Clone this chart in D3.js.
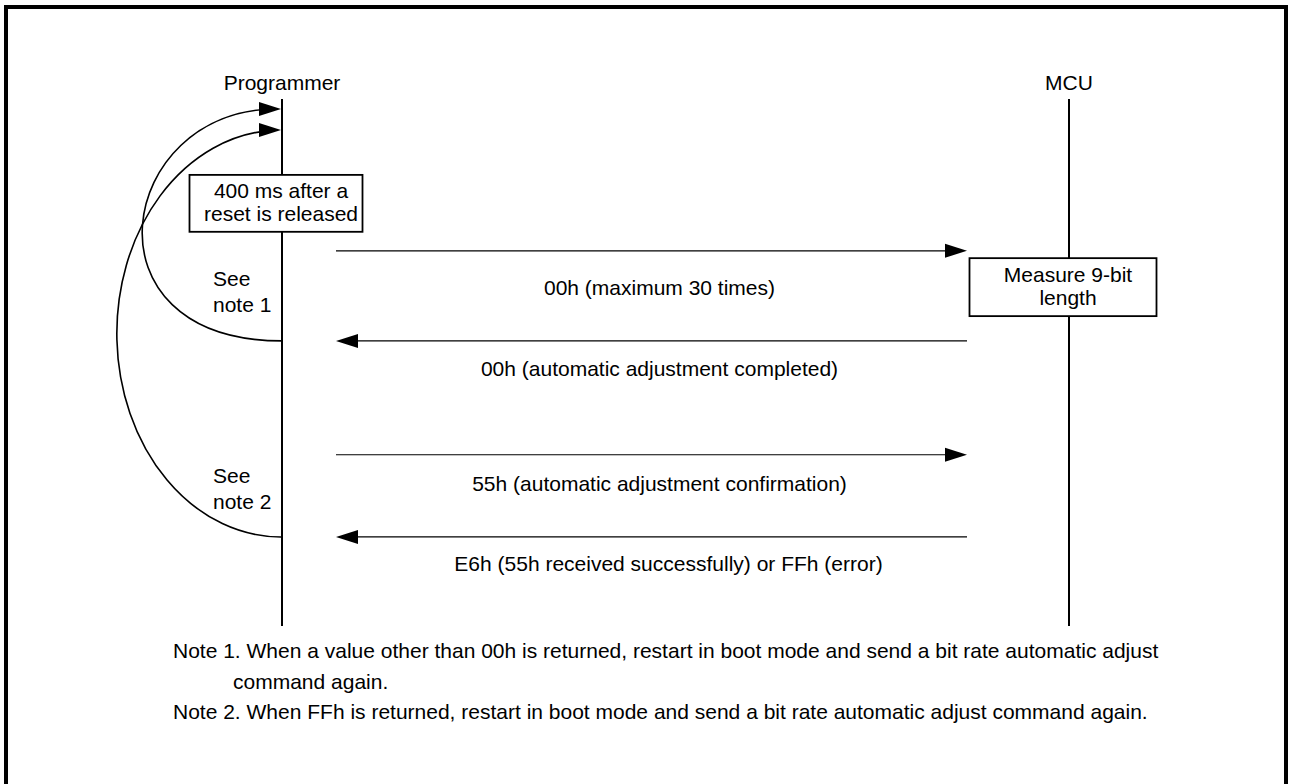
<!DOCTYPE html>
<html>
<head>
<meta charset="utf-8">
<script src="https://cdn.jsdelivr.net/npm/d3@7/dist/d3.min.js"></script>
<style>
  html, body { margin: 0; padding: 0; background: #fff; }
  svg { display: block; }
  text { font-family: "Liberation Sans", Arial, Helvetica, sans-serif; fill: #000; }
</style>
</head>
<body>
<svg id="chart" width="1290" height="784"></svg>
<script>
// ---- data ----
const participants = ["Programmer", "MCU"];
// message times on the timeline (0 = top of lifelines, 100 = bottom)
const messageFrom = ["Programmer", "MCU", "Programmer", "MCU"];
const messageTo   = ["MCU", "Programmer", "MCU", "Programmer"];
const messageTime = [28.8, 45.9, 67.5, 83.1];
const messageLabel = [
  "00h (maximum 30 times)",
  "00h (automatic adjustment completed)",
  "55h (automatic adjustment confirmation)",
  "E6h (55h received successfully) or FFh (error)"
];
const messageLabelTime = [37.2, 52.5, 74.4, 89.6];
const messageLabelShift = [0, 0, 0, 9];

// boxes on lifelines
const boxOwner = ["Programmer", "MCU"];
const boxStart = [14.4, 30.2];
const boxEnd   = [25.2, 41.2];
const boxLines = [["400 ms after a", "reset is released"], ["Measure 9-bit", "length"]];

// loop-back curves (retry) : from a message time back to an earlier time
const loopFrom  = [45.9, 83.1];
const loopTo    = [1.9, 5.9];
const loopLabel = [["See", "note 1"], ["See", "note 2"]];
const loopLabelTime = [35.5, 72.8];

const notes = [
  ["Note 1. When a value other than 00h is returned, restart in boot mode and send a bit rate automatic adjust", "command again."],
  ["Note 2. When FFh is returned, restart in boot mode and send a bit rate automatic adjust command again."]
];

// ---- scales ----
const svg = d3.select("#chart");
const W = 1290, H = 784;
const x = d3.scalePoint().domain(participants).range([282, 1069]);
const y = d3.scaleLinear().domain([0, 100]).range([99, 626]);
const FS = 21;

// frame
svg.append("path")
  .attr("d", `M6,${H + 10} V7 H1286 V${H + 10}`)
  .attr("fill", "none").attr("stroke", "#000").attr("stroke-width", 4);

// participant labels
svg.selectAll("text.part").data(participants).join("text")
  .attr("class", "part")
  .attr("x", d => x(d)).attr("y", 90)
  .attr("text-anchor", "middle").attr("font-size", FS)
  .text(d => d);

// lifelines
svg.selectAll("line.life").data(participants).join("line")
  .attr("class", "life")
  .attr("x1", d => x(d)).attr("x2", d => x(d))
  .attr("y1", y(0)).attr("y2", y(100))
  .attr("stroke", "#000").attr("stroke-width", 2);

// arrowhead helper
function head(g, tipX, tipY, dir) {
  const L = 22, hw = 7;
  g.append("path")
    .attr("d", `M${tipX},${tipY} L${tipX - dir * L},${tipY - hw} L${tipX - dir * L},${tipY + hw} Z`)
    .attr("fill", "#000");
}

// messages
const leftEnd = x("Programmer") + 54;
const rightEnd = x("MCU") - 102;
const msgG = svg.append("g");
messageTime.forEach((t, i) => {
  const yy = y(t);
  const toRight = x(messageTo[i]) > x(messageFrom[i]);
  const tipX = toRight ? rightEnd : leftEnd;
  const startX = toRight ? leftEnd : rightEnd;
  const dir = toRight ? 1 : -1;
  msgG.append("line")
    .attr("x1", startX).attr("x2", tipX - dir * 20)
    .attr("y1", yy).attr("y2", yy)
    .attr("stroke", "#000").attr("stroke-width", 1.2);
  head(msgG, tipX, yy, dir);
  msgG.append("text")
    .attr("x", (leftEnd + rightEnd) / 2 + 8 + messageLabelShift[i])
    .attr("y", y(messageLabelTime[i]))
    .attr("text-anchor", "middle").attr("font-size", FS)
    .text(messageLabel[i]);
});

// loop curves
const loopG = svg.append("g");
const px = x("Programmer");
// inner loop (note 1): bezier, bulging slightly lower
{
  const y0 = y(loopFrom[0]), y1 = y(loopTo[0]);
  loopG.append("path")
    .attr("d", `M${px},${y0} C${px - 205},${y0} ${px - 165},${y1} ${px - 6},${y1}`)
    .attr("fill", "none").attr("stroke", "#000").attr("stroke-width", 1.6);
  head(loopG, px - 1, y1, 1);
}
// outer loop (note 2): half ellipse
{
  const y0 = y(loopFrom[1]), y1 = y(loopTo[1]);
  const ry = (y0 - y1) / 2;
  loopG.append("path")
    .attr("d", `M${px},${y0} A164,${ry} 0 0 1 ${px - 10},${y1 + 0.3}`)
    .attr("fill", "none").attr("stroke", "#000").attr("stroke-width", 1.6);
  head(loopG, px - 1, y1, 1);
}
loopLabel.forEach((lines, i) => {
  loopG.selectAll(null).data(lines).join("text")
    .attr("x", 213)
    .attr("y", (d, j) => y(loopLabelTime[i]) + j * 26)
    .attr("font-size", FS)
    .text(d => d);
});

// activity boxes
const boxW = [173, 187];
const boxDx = [-6, -6];
boxOwner.forEach((p, i) => {
  const cx = x(p) + boxDx[i];
  const y0 = y(boxStart[i]), y1 = y(boxEnd[i]);
  svg.append("rect")
    .attr("x", cx - boxW[i] / 2).attr("y", y0)
    .attr("width", boxW[i]).attr("height", y1 - y0)
    .attr("fill", "#fff").attr("stroke", "#000").attr("stroke-width", 1.8);
  svg.selectAll(null).data(boxLines[i]).join("text")
    .attr("x", x(p) - 1)
    .attr("y", (d, j) => (y0 + y1) / 2 - 5.5 + j * 23.5)
    .attr("text-anchor", "middle").attr("font-size", FS)
    .text(d => d);
});

// notes
const noteBase = [658, 719];
notes.forEach((lines, i) => {
  lines.forEach((ln, j) => {
    svg.append("text")
      .attr("x", j === 0 ? 173 : 233)
      .attr("y", noteBase[i] + j * 31)
      .attr("font-size", FS)
      .text(ln);
  });
});
</script>
</body>
</html>
